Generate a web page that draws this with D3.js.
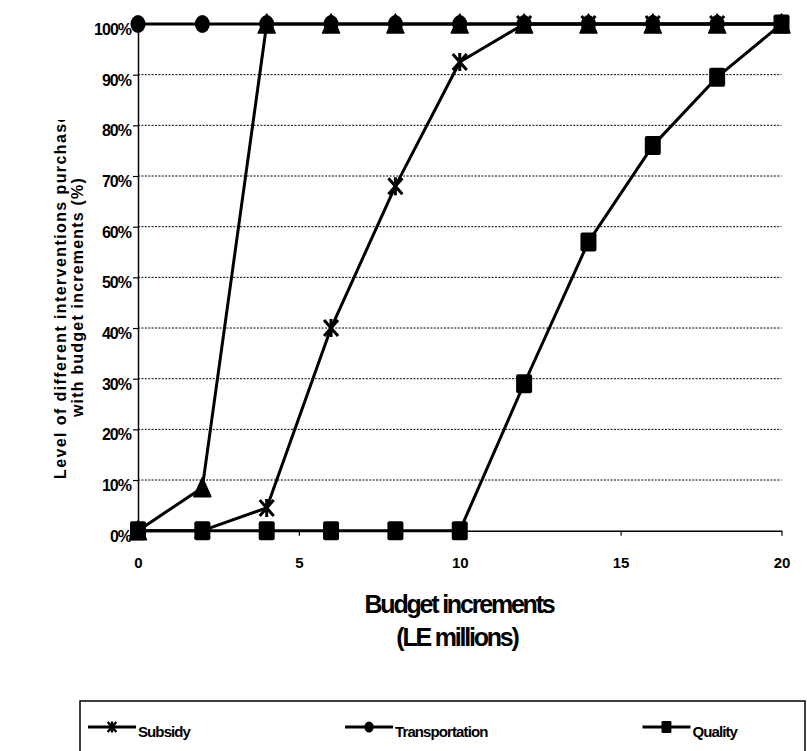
<!DOCTYPE html>
<html>
<head>
<meta charset="utf-8">
<script src="https://cdn.jsdelivr.net/npm/d3@7"></script>
<style>
  html, body { margin: 0; padding: 0; background: #fff; }
  svg { display: block; font-family: "Liberation Sans", Arial, sans-serif; font-weight: bold; }
</style>
</head>
<body>
<svg id="chart" width="807" height="751"></svg>
<script>
// Budget steps (LE millions) and share of each intervention purchased (%)
const budget = [0, 2, 4, 6, 8, 10, 12, 14, 16, 18, 20];
const subsidy = [0, 0, 4.5, 40, 68, 92.5, 100, 100, 100, 100, 100];
const transportation = [100, 100, 100, 100, 100, 100, 100, 100, 100, 100, 100];
const quality = [0, 0, 0, 0, 0, 0, 29, 57, 76, 89.5, 100];
const series4 = [0, 8.5, 100, 100, 100, 100, 100, 100, 100, 100, 100];

const xTickValues = [0, 5, 10, 15, 20];
const yTickValues = [0, 10, 20, 30, 40, 50, 60, 70, 80, 90, 100];
const legendNames = ["Subsidy", "Transportation", "Quality"];

const series = [
  { name: legendNames[0], values: subsidy, marker: "star" },
  { name: legendNames[1], values: transportation, marker: "circle" },
  { name: "Series 4", values: series4, marker: "triangle" },
  { name: legendNames[2], values: quality, marker: "square" }
];

const svg = d3.select("#chart");
const x = d3.scaleLinear().domain([0, 20]).range([138, 781.5]);
const y = d3.scaleLinear().domain([0, 100]).range([530.7, 24]);

// Marker shapes, k scales them down for the legend
function drawMarker(g, type, k) {
  if (type === "star") {
    g.append("path")
      .attr("d", `M${-7*k},${-8*k}L${7*k},${8*k}M${7*k},${-8*k}L${-7*k},${8*k}M0,${-9*k}V${9*k}`)
      .attr("stroke", "#000").attr("stroke-width", 3 * Math.max(k, 0.8)).attr("fill", "none");
  } else if (type === "circle") {
    g.append("ellipse").attr("rx", 7.5 * k).attr("ry", 9 * k).attr("fill", "#000");
  } else if (type === "square") {
    g.append("rect").attr("x", -8 * k).attr("y", -9.5 * k)
      .attr("width", 16 * k).attr("height", 19 * k).attr("rx", 2 * k).attr("fill", "#000");
  } else if (type === "triangle") {
    g.append("path")
      .attr("d", `M0,${-10*k}L${8.5*k},${9*k}L${-8.5*k},${9*k}Z`)
      .attr("fill", "#000").attr("stroke", "#000").attr("stroke-width", 1.5).attr("stroke-linejoin", "round");
  }
}

// Dotted horizontal gridlines
svg.append("g")
  .selectAll("line")
  .data(yTickValues.filter(d => d > 0))
  .join("line")
  .attr("x1", x(0)).attr("x2", x(20))
  .attr("y1", d => y(d)).attr("y2", d => y(d))
  .attr("stroke", "#000").attr("stroke-width", 1)
  .attr("stroke-dasharray", "2,1.4");

// Y axis
const yAxis = svg.append("g")
  .attr("transform", `translate(${x(0)},0)`)
  .call(d3.axisLeft(y).tickValues(yTickValues).tickSize(5).tickSizeOuter(0).tickPadding(2)
    .tickFormat(d => d + "%"));
yAxis.select(".domain").attr("stroke", "#000").attr("stroke-width", 1.5);
yAxis.selectAll(".tick line").attr("stroke", "#000").attr("stroke-width", 1.2);
yAxis.selectAll(".tick text")
  .attr("dy", 0).attr("y", 10.5)
  .attr("font-size", 16).attr("letter-spacing", "-1px")
  .attr("font-family", "Liberation Sans, Arial, sans-serif").attr("font-weight", "bold")
  .attr("fill", "#000");

// X axis
const xAxis = svg.append("g")
  .attr("transform", `translate(0,${y(0)})`)
  .call(d3.axisBottom(x).tickValues(xTickValues).tickSize(5).tickSizeOuter(0));
xAxis.select(".domain").attr("stroke", "#000").attr("stroke-width", 1.5);
xAxis.selectAll(".tick line").attr("stroke", "#000").attr("stroke-width", 1.2);
xAxis.selectAll(".tick text")
  .attr("dy", 0).attr("y", 37.5)
  .attr("font-size", 15)
  .attr("font-family", "Liberation Sans, Arial, sans-serif").attr("font-weight", "bold")
  .attr("fill", "#000");

// Series lines and markers
const line = d3.line().x((d, i) => x(budget[i])).y(d => y(d));
const plot = svg.append("g");
series.forEach(s => {
  plot.append("path")
    .attr("d", line(s.values))
    .attr("fill", "none").attr("stroke", "#000").attr("stroke-width", 3)
    .attr("stroke-linejoin", "round");
});
series.forEach(s => {
  plot.append("g")
    .selectAll("g")
    .data(s.values)
    .join("g")
    .attr("transform", (d, i) => `translate(${x(budget[i])},${y(d)})`)
    .each(function () { drawMarker(d3.select(this), s.marker, 1); });
});

// Axis titles
svg.append("text")
  .attr("x", 459).attr("y", 613)
  .attr("text-anchor", "middle").attr("font-size", 25).attr("letter-spacing", "-2.2px")
  .text("Budget increments");
svg.append("text")
  .attr("x", 457).attr("y", 646)
  .attr("text-anchor", "middle").attr("font-size", 25).attr("letter-spacing", "-2.2px")
  .text("(LE millions)");

svg.append("clipPath").attr("id", "ytitle-clip")
  .append("rect").attr("x", 0).attr("y", 120).attr("width", 137).attr("height", 631);
const yTitle = svg.append("g").attr("clip-path", "url(#ytitle-clip)");
yTitle.append("text")
  .attr("transform", "translate(65.5,290) rotate(-90)")
  .attr("text-anchor", "middle").attr("font-size", 16).attr("letter-spacing", "1.4px")
  .text("Level of different interventions purchased");
yTitle.append("text")
  .attr("transform", "translate(83,297) rotate(-90)")
  .attr("text-anchor", "middle").attr("font-size", 16).attr("letter-spacing", "1.2px")
  .text("with budget increments (%)");

// Legend
const legend = svg.append("g");
legend.append("rect")
  .attr("x", 80).attr("y", 701).attr("width", 725).attr("height", 90)
  .attr("fill", "none").attr("stroke", "#000").attr("stroke-width", 1.5);

const legendSeries = series.filter(s => legendNames.includes(s.name));
let lx = 88;
legendSeries.forEach(s => {
  const item = legend.append("g").attr("transform", `translate(${lx},727)`);
  item.append("line").attr("x1", 0).attr("x2", 48).attr("y1", 0).attr("y2", 0)
    .attr("stroke", "#000").attr("stroke-width", 3);
  const m = item.append("g").attr("transform", "translate(24,0)");
  drawMarker(m, s.marker, 0.62);
  const t = item.append("text")
    .attr("x", 50).attr("y", 10)
    .attr("font-size", 15).attr("letter-spacing", "-0.9px")
    .text(s.name);
  lx += 50 + t.node().getComputedTextLength() + 155;
});
</script>
</body>
</html>
